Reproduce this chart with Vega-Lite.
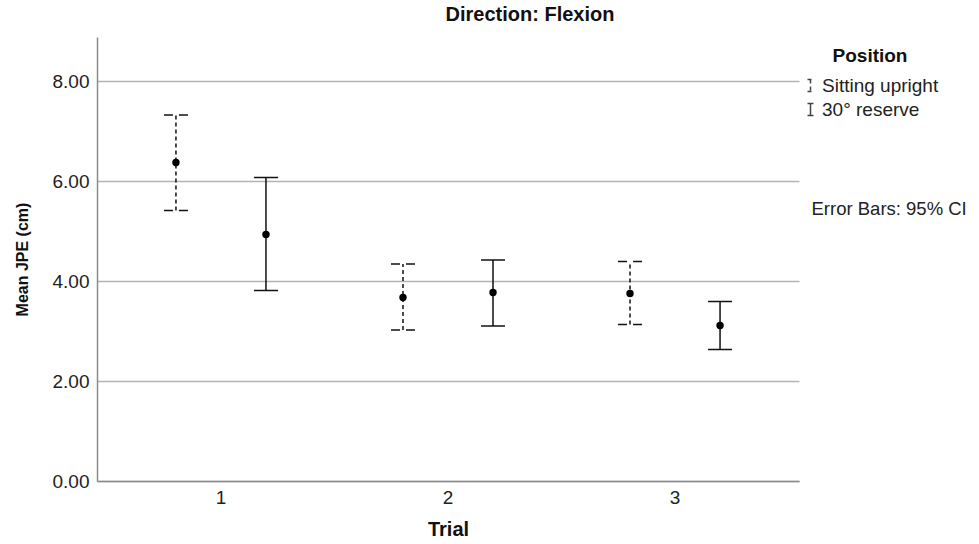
{
  "$schema": "https://vega.github.io/schema/vega-lite/v6.json",
  "width": 702,
  "height": 444,
  "autosize": {"type": "none"},
  "padding": {"left": 97, "top": 37, "right": 180, "bottom": 63},
  "background": "white",
  "config": {
    "font": "Liberation Sans",
    "view": {"stroke": null}
  },
  "title": {
    "text": "Direction: Flexion",
    "fontSize": 20,
    "fontWeight": "bold",
    "color": "#111",
    "anchor": "middle",
    "dx": 82,
    "offset": 12
  },
  "data": {
    "values": [
      {"Trial": "1", "Position": "Sitting upright", "mean": 6.37, "low": 5.41, "high": 7.32},
      {"Trial": "1", "Position": "30° reserve", "mean": 4.93, "low": 3.81, "high": 6.07},
      {"Trial": "2", "Position": "Sitting upright", "mean": 3.67, "low": 3.02, "high": 4.34},
      {"Trial": "2", "Position": "30° reserve", "mean": 3.77, "low": 3.10, "high": 4.42},
      {"Trial": "3", "Position": "Sitting upright", "mean": 3.75, "low": 3.13, "high": 4.39},
      {"Trial": "3", "Position": "30° reserve", "mean": 3.11, "low": 2.63, "high": 3.59}
    ]
  },
  "encoding": {
    "x": {
      "field": "Trial",
      "type": "nominal",
      "scale": {"paddingInner": 0, "paddingOuter": 0.046},
      "axis": {
        "title": "Trial",
        "labelAngle": 0,
        "labelFontSize": 19,
        "labelColor": "#222",
        "labelPadding": 7,
        "ticks": false,
        "domainColor": "#8a8a8a",
        "domainWidth": 1.5,
        "titleFontSize": 20,
        "titleFontWeight": "bold",
        "titleColor": "#111",
        "titlePadding": 12
      }
    },
    "xOffset": {
      "field": "Position",
      "type": "nominal",
      "scale": {"domain": ["Sitting upright", "30° reserve"], "paddingInner": 0, "paddingOuter": 0.261}
    }
  },
  "layer": [
    {
      "mark": {"type": "rule", "color": "#111", "strokeWidth": 1.5},
      "encoding": {
        "y": {
          "field": "low",
          "type": "quantitative",
          "scale": {"domain": [0, 8.88], "nice": false},
          "axis": {
            "title": "Mean JPE (cm)",
            "values": [0, 2, 4, 6, 8],
            "format": ".2f",
            "labelFontSize": 19,
            "labelColor": "#222",
            "labelPadding": 8,
            "ticks": false,
            "domainColor": "#8a8a8a",
            "domainWidth": 1.5,
            "grid": true,
            "gridColor": "#b4b4b4",
            "gridWidth": 1.5,
            "titleFontSize": 16,
            "titleFontWeight": "bold",
            "titleColor": "#111",
            "titlePadding": 22
          }
        },
        "y2": {"field": "high"},
        "strokeDash": {
          "field": "Position",
          "type": "nominal",
          "scale": {"domain": ["Sitting upright", "30° reserve"], "range": [[4, 3], [1, 0]]},
          "legend": {
            "title": "Position",
            "orient": "none",
            "legendX": 704,
            "legendY": 10,
            "padding": 0,
            "titleFontSize": 19,
            "titleFontWeight": "bold",
            "titleColor": "#111",
            "titleAnchor": "middle",
            "titlePadding": 10,
            "labelFontSize": 19,
            "labelColor": "#222",
            "labelOffset": 2,
            "rowPadding": 4,
            "symbolType": "M-0.5,-1H0.5M0,-1V1M-0.5,1H0.5",
            "symbolSize": 144,
            "symbolStrokeColor": "#444",
            "symbolStrokeWidth": 1.5,
            "symbolFillColor": "transparent",
            "encode": {
              "symbols": {
                "update": {
                  "stroke": {"value": "#444"},
                  "strokeWidth": {"value": 1.5},
                  "opacity": {"value": 1},
                  "strokeOpacity": {"value": 1},
                  "shape": {"value": "M-0.5,-1H0.5M0,-1V1M-0.5,1H0.5"},
                  "size": {"value": 144}
                }
              }
            }
          }
        }
      }
    },
    {
      "mark": {"type": "point", "shape": "M-1,0H1", "filled": false, "color": "#111", "size": 576, "strokeWidth": 1.5, "opacity": 1},
      "encoding": {
        "y": {"field": "low", "type": "quantitative"},
        "strokeDash": {"condition": {"test": "datum.Position === 'Sitting upright'", "value": [9, 6]}, "value": [1, 0]}
      }
    },
    {
      "mark": {"type": "point", "shape": "M-1,0H1", "filled": false, "color": "#111", "size": 576, "strokeWidth": 1.5, "opacity": 1},
      "encoding": {
        "y": {"field": "high", "type": "quantitative"},
        "strokeDash": {"condition": {"test": "datum.Position === 'Sitting upright'", "value": [9, 6]}, "value": [1, 0]}
      }
    },
    {
      "mark": {"type": "point", "filled": true, "color": "#000", "size": 55, "opacity": 1},
      "encoding": {
        "y": {"field": "mean", "type": "quantitative"},
        "shape": {
          "datum": "Error Bars: 95% CI",
          "scale": {"range": ["circle"]},
          "legend": {
            "title": null,
            "orient": "none",
            "legendX": 696,
            "legendY": 163,
            "padding": 0,
            "symbolSize": 0,
            "symbolOpacity": 0,
            "labelOffset": 0,
            "labelFontSize": 18.5,
            "labelColor": "#222"
          }
        }
      }
    }
  ]
}
